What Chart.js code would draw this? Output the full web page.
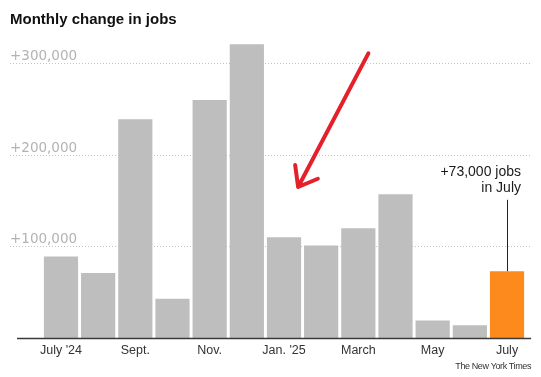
<!DOCTYPE html>
<html>
<head>
<meta charset="utf-8">
<script src="https://cdn.jsdelivr.net/npm/chart.js@4/dist/chart.umd.min.js"></script>
<style>
  html, body { margin: 0; padding: 0; background: #fff; }
  #jobsChart { display: block; }
</style>
</head>
<body>
<canvas id="jobsChart" width="541" height="377"></canvas>
<script>
// Months, July 2024 to July 2025
var months = ["July '24", "Aug.", "Sept.", "Oct.", "Nov.", "Dec.", "Jan. '25", "Feb.", "March", "April", "May", "June", "July"];
var monthTickLabels = ["July '24", "", "Sept.", "", "Nov.", "", "Jan. '25", "", "March", "", "May", "", "July"];
var jobChanges = [89000, 71000, 239000, 43000, 260000, 321000, 110000, 101000, 120000, 157000, 19000, 14000, 73000];
var yTickValues = [100000, 200000, 300000];
var yTickLabels = ["+100,000", "+200,000", "+300,000"];

var barColors = jobChanges.map(function (v, i) {
    return i === jobChanges.length - 1 ? '#fd8a1d' : '#bebebe';
});

// grid lines with their labels, axis line, note and the red arrow
var decorations = {
    id: 'decorations',
    beforeDatasetsDraw: function (chart) {
        var ctx = chart.ctx, area = chart.chartArea, y = chart.scales.y;
        ctx.save();
        ctx.strokeStyle = '#c2c2c2';
        ctx.lineWidth = 1;
        ctx.setLineDash([1, 2]);
        ctx.fillStyle = '#b3b3b3';
        ctx.font = '13.5px "DejaVu Sans", sans-serif';
        ctx.textAlign = 'left';
        ctx.textBaseline = 'middle';
        yTickValues.forEach(function (v, i) {
            var py = Math.round(y.getPixelForValue(v)) + 0.5;
            ctx.beginPath();
            ctx.moveTo(10, py);
            ctx.lineTo(area.right + 5, py);
            ctx.stroke();
            ctx.fillText(yTickLabels[i], 10, py - 7);
        });
        ctx.restore();
    },
    afterDatasetsDraw: function (chart) {
        var ctx = chart.ctx, area = chart.chartArea;
        var x = chart.scales.x, y = chart.scales.y;
        ctx.save();

        // baseline
        ctx.strokeStyle = '#3a3a3a';
        ctx.lineWidth = 1.5;
        ctx.beginPath();
        ctx.moveTo(17, y.getPixelForValue(0) + 0.5);
        ctx.lineTo(area.right + 5.5, y.getPixelForValue(0) + 0.5);
        ctx.stroke();

        // note on the last bar
        var last = jobChanges.length - 1;
        var bx = x.getPixelForValue(last);
        var lineTop = y.getPixelForValue(151000);
        ctx.strokeStyle = '#222';
        ctx.lineWidth = 1;
        ctx.beginPath();
        ctx.moveTo(Math.round(bx) + 0.5, lineTop);
        ctx.lineTo(Math.round(bx) + 0.5, y.getPixelForValue(jobChanges[last]));
        ctx.stroke();
        ctx.fillStyle = '#1a1a1a';
        ctx.font = '14px "Liberation Sans", Arial, sans-serif';
        ctx.textAlign = 'right';
        ctx.textBaseline = 'middle';
        ctx.fillText('+73,000 jobs', bx + 14, lineTop - 28);
        ctx.fillText('in July', bx + 14, lineTop - 12);

        // hand drawn red arrow
        ctx.strokeStyle = '#e4212b';
        ctx.lineWidth = 4;
        ctx.lineCap = 'round';
        ctx.lineJoin = 'round';
        var tipX = x.getPixelForValue(6.38), tipY = y.getPixelForValue(165000);
        ctx.beginPath();
        ctx.moveTo(x.getPixelForValue(8.27), y.getPixelForValue(311000));
        ctx.lineTo(tipX, tipY);
        ctx.moveTo(x.getPixelForValue(6.30), y.getPixelForValue(189000));
        ctx.lineTo(tipX, tipY);
        ctx.lineTo(x.getPixelForValue(6.91), y.getPixelForValue(174000));
        ctx.stroke();

        // credit
        ctx.fillStyle = '#333';
        ctx.font = '9px "Liberation Sans", Arial, sans-serif';
        ctx.letterSpacing = '-0.4px';
        ctx.textAlign = 'right';
        ctx.fillText('The New York Times', 531, 367);
        ctx.restore();
    }
};

var ctx = document.getElementById('jobsChart').getContext('2d');

var jobsChart = new Chart(ctx, {
    type: 'bar',
    data: {
        labels: months,
        datasets: [{
            label: 'Monthly change in jobs',
            data: jobChanges,
            backgroundColor: barColors,
            borderWidth: 0,
            categoryPercentage: 1,
            barPercentage: 0.92
        }]
    },
    options: {
        responsive: false,
        animation: false,
        layout: {
            padding: { left: 10, right: 15.4, top: 0, bottom: 14 }
        },
        plugins: {
            legend: { display: false },
            tooltip: { enabled: false },
            title: {
                display: true,
                text: 'Monthly change in jobs',
                align: 'start',
                color: '#111',
                font: { family: '"Liberation Sans", Arial, sans-serif', size: 15, weight: 'bold' },
                padding: { top: 11, bottom: 7 }
            }
        },
        scales: {
            x: {
                grid: { display: false, drawTicks: false },
                border: { display: false },
                ticks: {
                    autoSkip: false,
                    maxRotation: 0,
                    padding: 5,
                    color: '#333',
                    font: { family: '"Liberation Sans", Arial, sans-serif', size: 12.5 },
                    callback: function (value, index) { return monthTickLabels[index]; }
                }
            },
            y: {
                min: 0,
                max: 330000,
                grid: { display: false, drawTicks: false },
                border: { display: false },
                ticks: { display: false },
                afterFit: function (scale) { scale.width = 32.4; }
            }
        }
    },
    plugins: [decorations]
});
</script>
</body>
</html>
